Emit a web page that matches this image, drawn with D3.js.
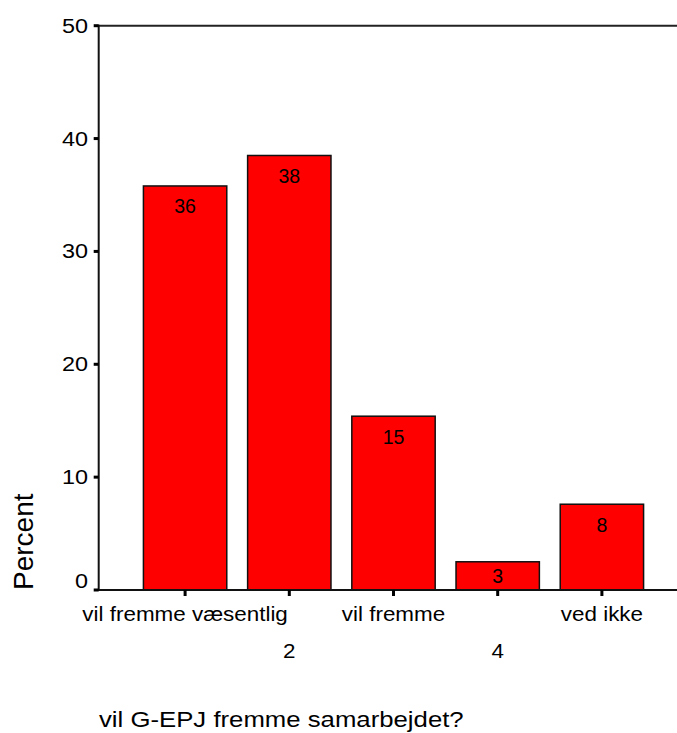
<!DOCTYPE html>
<html>
<head>
<meta charset="utf-8">
<script src="https://cdn.jsdelivr.net/npm/d3@7"></script>
<style>
  html, body { margin: 0; padding: 0; background: #fff; }
  svg { display: block; font-family: "Liberation Sans", Arial, sans-serif; }
</style>
</head>
<body>
<svg id="chart" width="677" height="733"></svg>
<script>
const categories = ["vil fremme væsentlig", "2", "vil fremme", "4", "ved ikke"];
const values = [35.8, 38.5, 15.4, 2.5, 7.6];
const barLabels = ["36", "38", "15", "3", "8"];
const yTicks = [0, 10, 20, 30, 40, 50];
const yTitle = "Percent";
const xTitle = "vil G-EPJ fremme samarbejdet?";

const svg = d3.select("#chart");
const W = 677, H = 733;
svg.append("rect").attr("width", W).attr("height", H).attr("fill", "#fff");

const axisX = 98.7, baseY = 590, topY = 25.7;
const x = d3.scaleBand().domain(d3.range(categories.length)).range([133, 654]).paddingInner(0.2).paddingOuter(0.1);
const y = d3.scaleLinear().domain([0, 50]).range([baseY, topY]);

// bars
svg.selectAll("rect.bar").data(values).enter().append("rect")
  .attr("class", "bar")
  .attr("x", (d, i) => x(i))
  .attr("y", d => y(d))
  .attr("width", x.bandwidth())
  .attr("height", d => baseY - y(d))
  .attr("fill", "#ff0000")
  .attr("stroke", "#111")
  .attr("stroke-width", 1.5);

// bar labels
svg.selectAll("text.blabel").data(values).enter().append("text")
  .attr("class", "blabel")
  .attr("x", (d, i) => x(i) + x.bandwidth() / 2)
  .attr("y", d => Math.min(y(d) + 27.5, baseY - 7.3))
  .attr("text-anchor", "middle")
  .attr("font-size", 19.5)
  .attr("fill", "#000")
  .text((d, i) => barLabels[i]);

// frame lines: top and bottom extend to right edge, left axis
svg.append("line").attr("x1", axisX).attr("x2", W).attr("y1", topY).attr("y2", topY)
  .attr("stroke", "#222").attr("stroke-width", 2);
svg.append("line").attr("x1", axisX).attr("x2", W).attr("y1", baseY).attr("y2", baseY)
  .attr("stroke", "#111").attr("stroke-width", 2);
svg.append("line").attr("x1", axisX).attr("x2", axisX).attr("y1", topY - 1).attr("y2", baseY + 1)
  .attr("stroke", "#111").attr("stroke-width", 2);

// y ticks
const yt = svg.append("g");
yTicks.forEach(t => {
  yt.append("rect").attr("x", axisX - 5).attr("y", y(t) - 1.5).attr("width", 5).attr("height", 3).attr("fill", "#000");
  yt.append("text")
    .attr("transform", `translate(88,${y(t) + 7 - (t === 0 ? 9 : 0)}) scale(1.2,1)`)
    .attr("text-anchor", "end")
    .attr("font-size", 19.5)
    .attr("fill", "#000")
    .text(t);
});

// x ticks and labels
const xt = svg.append("g");
categories.forEach((c, i) => {
  const cx = x(i) + x.bandwidth() / 2;
  xt.append("rect").attr("x", cx - 1.5).attr("y", baseY).attr("width", 3).attr("height", 6).attr("fill", "#000");
  xt.append("text")
    .attr("transform", `translate(${cx},${i % 2 === 0 ? 620.5 : 658.3}) scale(1.15,1)`)
    .attr("text-anchor", "middle")
    .attr("font-size", 19.5)
    .attr("fill", "#000")
    .text(c);
});

// y title
svg.append("text")
  .attr("transform", `translate(33.3,541.7) rotate(-90)`)
  .attr("text-anchor", "middle")
  .attr("font-size", 28)
  .attr("fill", "#000")
  .text(yTitle);

// x title
svg.append("text")
  .attr("transform", `translate(99,726.7) scale(1.17,1)`)
  .attr("text-anchor", "start")
  .attr("font-size", 22)
  .attr("fill", "#000")
  .text(xTitle);
</script>
</body>
</html>
